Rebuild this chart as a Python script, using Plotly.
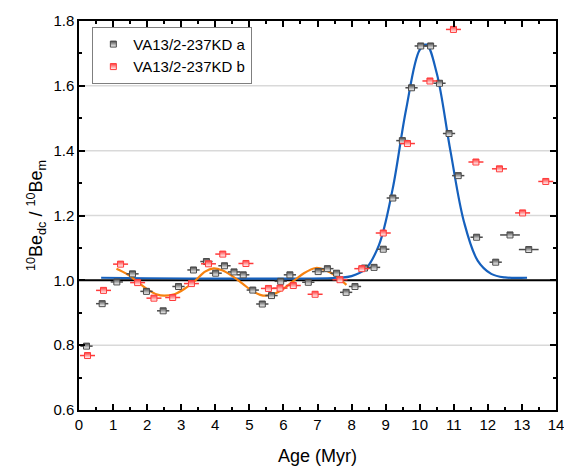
import plotly.graph_objects as go

# sample a (grey) – age (Myr) and ratio
age_a = [0.22, 0.68, 1.11, 1.57, 1.98, 2.47, 2.92, 3.36, 3.74, 4.01, 4.27, 4.55, 4.82, 5.10,
         5.38, 5.65, 5.92, 6.19, 6.73, 7.02, 7.29, 7.56, 7.84, 8.10, 8.38, 8.66, 8.93, 9.21,
         9.49, 9.76, 10.03, 10.32, 10.58, 10.86, 11.13, 11.67, 12.23, 12.65, 13.20]
ratio_a = [0.797, 0.928, 0.995, 1.020, 0.966, 0.906, 0.981, 1.032, 1.058, 1.022, 1.045, 1.026,
           1.017, 0.970, 0.927, 0.953, 0.997, 1.017, 0.994, 1.027, 1.036, 1.022, 0.963, 0.981,
           1.038, 1.040, 1.096, 1.254, 1.431, 1.594, 1.723, 1.723, 1.608, 1.453, 1.323, 1.133,
           1.056, 1.140, 1.095]
err_a = [0.18] * 37 + [0.29, 0.29]

# sample b (red)
age_b = [0.25, 0.72, 1.22, 1.72, 2.20, 2.75, 3.30, 3.80, 4.22, 4.90, 5.56, 5.90, 6.29, 6.93,
         7.66, 8.30, 8.93, 9.64, 10.30, 10.99, 11.65, 12.34, 13.02, 13.70]
ratio_b = [0.768, 0.969, 1.050, 0.993, 0.945, 0.947, 0.990, 1.051, 1.081, 1.052, 0.975, 0.976,
           0.984, 0.957, 1.002, 1.036, 1.146, 1.422, 1.615, 1.774, 1.365, 1.344, 1.208, 1.305]
err_b = [0.22] * 24

# blue fit curve
fit_blue_x = [0.65, 7.6, 8.0, 8.4, 8.8, 9.2, 9.6, 10.0, 10.2, 10.5, 10.9, 11.3, 11.7, 12.1, 12.5, 13.15]
fit_blue_y = [1.008, 1.008, 1.013, 1.034, 1.108, 1.279, 1.527, 1.711, 1.727, 1.639, 1.400, 1.180,
              1.061, 1.020, 1.009, 1.008]

# orange fit curve
fit_orange_x = [1.1, 1.4, 1.7, 2.0, 2.3, 2.5, 2.8, 3.1, 3.4, 3.7, 3.95, 4.2, 4.5, 4.8, 5.1, 5.4,
                5.7, 6.0, 6.3, 6.6, 6.95, 7.2, 7.5, 7.85]
fit_orange_y = [1.036, 1.020, 0.997, 0.973, 0.956, 0.953, 0.957, 0.974, 0.998, 1.027, 1.037, 1.031,
                1.013, 0.990, 0.966, 0.953, 0.957, 0.974, 0.998, 1.022, 1.038, 1.033, 1.016, 0.986]

grid_levels = [0.8, 1.2, 1.4, 1.6]
reference_level = 1.0

font = "Liberation Sans, Arial, sans-serif"
grey = "#4a4a4a"
red = "#ff3a3a"

fig = go.Figure()

# grid lines drawn as shapes so the black reference line can sit on top of them
for g in grid_levels:
    fig.add_hline(y=g, line=dict(color="#d9d9d9", width=1.5), layer="below")
fig.add_hline(y=reference_level, line=dict(color="black", width=2), layer="below")

fig.add_trace(go.Scatter(
    x=fit_blue_x, y=fit_blue_y, mode="lines", line=dict(color="#1560bd", width=2.2, shape="spline"),
    showlegend=False, hoverinfo="skip"))
fig.add_trace(go.Scatter(
    x=fit_orange_x, y=fit_orange_y, mode="lines", line=dict(color="#f7820f", width=2.2, shape="spline"),
    showlegend=False, hoverinfo="skip"))

fig.add_trace(go.Scatter(
    x=age_a, y=ratio_a, mode="markers", name="VA13/2-237KD a",
    error_x=dict(type="data", array=err_a, color=grey, thickness=1.5, width=0),
    marker=dict(symbol="square", size=6, color=grey,
                gradient=dict(type="vertical", color="white"),
                line=dict(color=grey, width=1))))
fig.add_trace(go.Scatter(
    x=age_b, y=ratio_b, mode="markers", name="VA13/2-237KD b",
    error_x=dict(type="data", array=err_b, color=red, thickness=1.5, width=0),
    marker=dict(symbol="square", size=6, color=red,
                gradient=dict(type="vertical", color="white"),
                line=dict(color=red, width=1))))

axis_common = dict(
    showline=True, linecolor="black", linewidth=1.5, mirror="ticks",
    ticks="inside", ticklen=6, tickwidth=1.5, tickcolor="black", automargin=False,
    tickfont=dict(family=font, size=15, color="black"), zeroline=False, showgrid=False,
)

fig.update_xaxes(
    range=[0, 14], dtick=1,
    title=dict(text="Age (Myr)", font=dict(family=font, size=18, color="black"), standoff=18),
    minor=dict(dtick=0.5, ticks="inside", ticklen=3, tickcolor="black", showgrid=False),
    **axis_common)
fig.update_yaxes(
    range=[0.6, 1.8], dtick=0.2, tickformat=".1f",
    title=dict(text="<sup>10</sup>Be<sub>dc</sub> / <sup>10</sup>Be<sub>m</sub>",
               font=dict(family=font, size=18, color="black"), standoff=6),
    minor=dict(dtick=0.1, ticks="inside", ticklen=3, tickcolor="black", showgrid=False),
    **axis_common)

# the page body adds an 8px margin, so the figure is 8px smaller and margins compensate
fig.update_layout(
    width=564, height=460,
    margin=dict(l=71, r=16, t=13, b=58),
    plot_bgcolor="white", paper_bgcolor="white",
    font=dict(family=font, size=14, color="black"),
    legend=dict(x=0.028, y=0.985, xanchor="left", yanchor="top",
                bordercolor="#7f7f7f", borderwidth=1, bgcolor="white",
                font=dict(family=font, size=15, color="black"),
                itemwidth=30, tracegroupgap=0),
)

fig.write_html("out.html")
